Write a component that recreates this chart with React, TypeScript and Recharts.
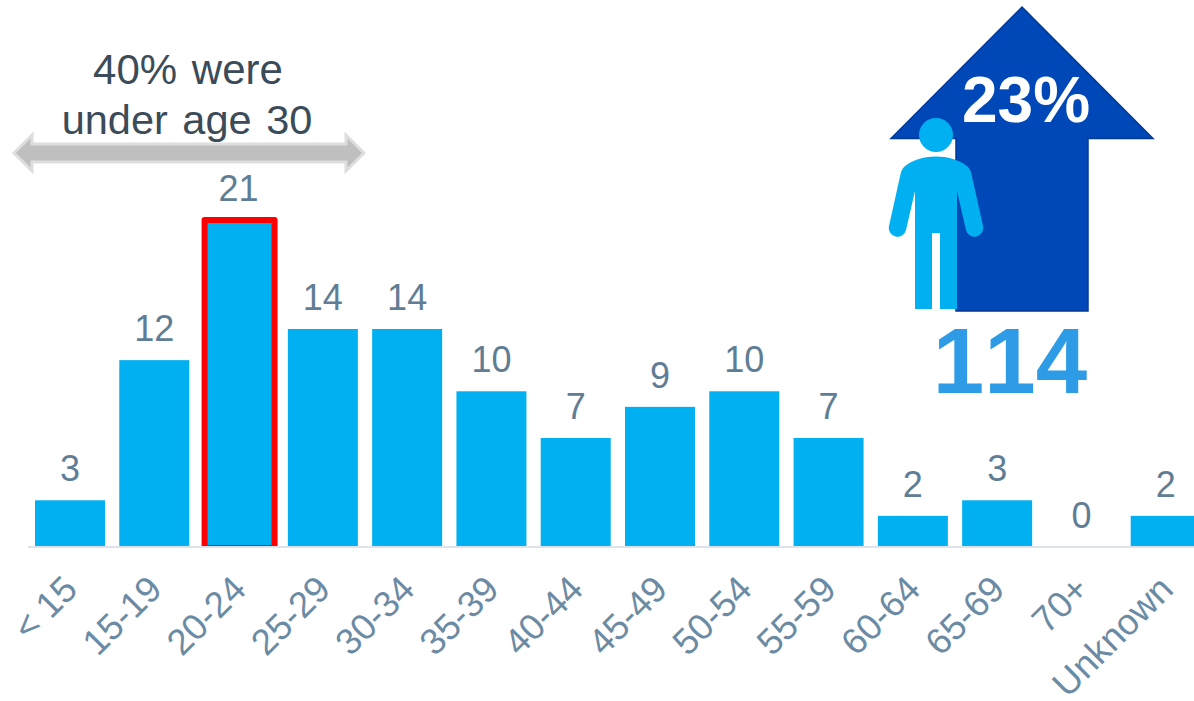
import { BarChart, Bar, XAxis, YAxis, LabelList } from "recharts"

const AGE_GROUPS = ["< 15", "15-19", "20-24", "25-29", "30-34", "35-39", "40-44", "45-49", "50-54", "55-59", "60-64", "65-69", "70+", "Unknown"]
const CASES = [3, 12, 21, 14, 14, 10, 7, 9, 10, 7, 2, 3, 0, 2]
const HIGHLIGHT = "20-24"

const chartData = AGE_GROUPS.map((group, i) => ({ group, cases: CASES[i] }))

const FONT = "'Liberation Sans', Arial, sans-serif"
const BAR_COLOR = "#00b0f0"

// the 20-24 bar gets a red box, the bottom edge is thinner because the axis line sits on it
function AgeBar(props: any) {
  const { x, y, width, height, payload } = props
  if (!height) return null
  if (payload.group !== HIGHLIGHT) {
    return <rect x={x} y={y} width={width} height={height} fill={BAR_COLOR} />
  }
  const left = x + 1
  const right = x + width + 1
  const bottom = y + height
  return (
    <g>
      <rect x={left} y={y} width={width} height={height} fill={BAR_COLOR} />
      <path d={`M${left} ${bottom} V${y} H${right} V${bottom}`} fill="none" stroke="#ff0000" strokeWidth={6} strokeLinejoin="round" />
      <line x1={left} x2={right} y1={bottom - 1} y2={bottom - 1} stroke="#ff0000" strokeWidth={2} />
    </g>
  )
}

function Overlay() {
  return (
    <svg width={1194} height={701} style={{ position: "absolute", left: 0, top: 0, pointerEvents: "none" }} fontFamily={FONT}>
      <text x={188} y={84} textAnchor="middle" fontSize={42} fill="#3b4b59" style={{ wordSpacing: 3 }}>40% were</text>
      <text x={187} y={134} textAnchor="middle" fontSize={41.5} fill="#3b4b59" style={{ wordSpacing: 3 }}>under age 30</text>
      <path
        d="M14 153 L32 135 V144 H346 V135 L364 153 L346 171 V162 H32 V171 Z"
        fill="#bfbfbf"
        stroke="#dedede"
        strokeWidth={3}
        strokeLinejoin="miter"
      />

      <path
        d="M1022 7 L1153 138.5 H1088 V311 H956 V138.5 H891 Z"
        fill="#0047b8"
        stroke="#003a94"
        strokeWidth={1.5}
      />
      <text x={1026} y={122} textAnchor="middle" fontSize={64} fontWeight="bold" fill="#ffffff" style={{ fontKerning: "none" }}>23%</text>

      <g fill={BAR_COLOR}>
        <circle cx={936} cy={135} r={17} />
        <path d="M936 156.5 C922 156.5 911 161 904 167 Q902 169 901 172 L889 226 A8.6 8.6 0 0 0 906 230 L915 191 V309 H932 V233 H940 V309 H957 V191 L966 230 A8.6 8.6 0 0 0 983 226 L971 172 Q970 169 968 167 C961 161 950 156.5 936 156.5 Z" />
      </g>

      <text x={1010} y={393} textAnchor="middle" fontSize={92.5} fontWeight="bold" fill="#2e9be6" style={{ fontKerning: "none" }}>114</text>
    </svg>
  )
}

export default function App() {
  return (
    <div style={{ position: "absolute", left: 0, top: 0, width: 1194, height: 701, overflow: "hidden", background: "#fff" }}>
      <BarChart
        width={1208}
        height={701}
        data={chartData}
        margin={{ top: 2, right: 0, bottom: 0, left: 28 }}
        barCategoryGap={14}
      >
        <YAxis hide domain={[0, 35]} />
        <XAxis
          dataKey="group"
          interval={0}
          height={154}
          angle={-45}
          textAnchor="end"
          tickLine={false}
          tickMargin={20}
          axisLine={{ stroke: "#dde3ea", strokeWidth: 2 }}
          tick={{ fontSize: 36.5, fill: "#6b8ba4", fontFamily: FONT, dx: -9 }}
        />
        <Bar dataKey="cases" barSize={70} shape={AgeBar} isAnimationActive={false}>
          <LabelList dataKey="cases" position="top" offset={19} fontSize={36} fill="#5f7d95" fontFamily={FONT} />
        </Bar>
      </BarChart>
      <Overlay />
    </div>
  )
}
